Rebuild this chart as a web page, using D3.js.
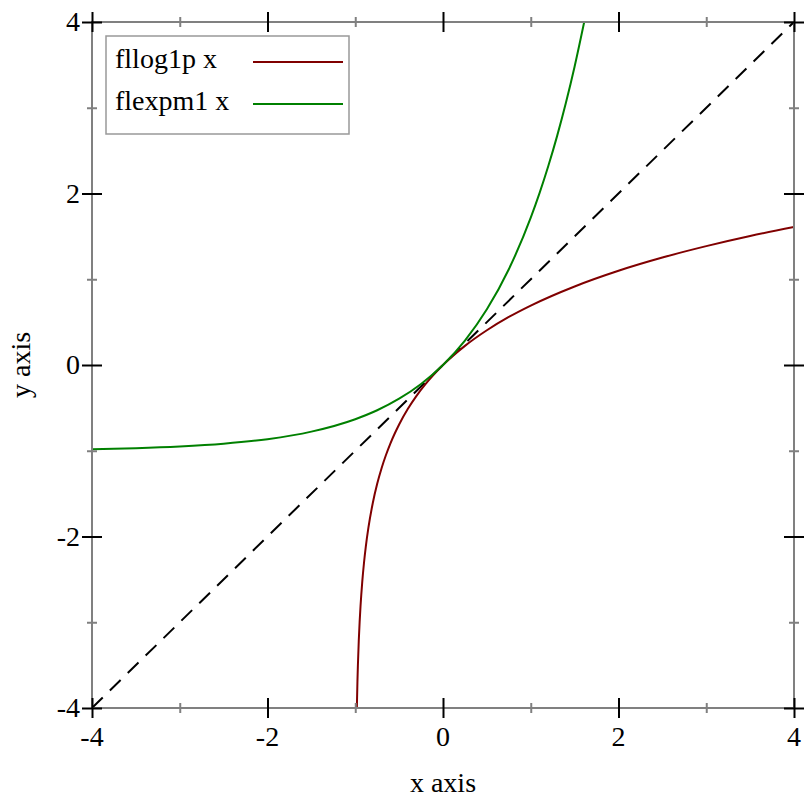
<!DOCTYPE html>
<html>
<head>
<meta charset="utf-8">
<script src="https://cdn.jsdelivr.net/npm/d3@7"></script>
<style>
  html, body { margin: 0; padding: 0; background: #fff; }
  svg { display: block; }
  text { font-family: "Liberation Serif", "Times New Roman", serif; fill: #000; }
</style>
</head>
<body>
<svg id="chart" width="812" height="812"></svg>
<script>
// ---- data ----
const seriesNames = ["fllog1p x", "flexpm1 x"];
const seriesColors = ["#800000", "#008000"];

const log1pX = [-0.9817, -0.975, -0.97, -0.96, -0.95, -0.94, -0.92, -0.9, -0.88, -0.85, -0.8, -0.75, -0.7, -0.65, -0.6, -0.55, -0.5, -0.4, -0.3, -0.2, -0.1, 0, 0.25, 0.5, 0.75, 1, 1.5, 2, 2.5, 3, 3.5, 4];
const log1pY = [-4.0, -3.689, -3.507, -3.219, -2.996, -2.813, -2.526, -2.303, -2.120, -1.897, -1.609, -1.386, -1.204, -1.050, -0.916, -0.799, -0.693, -0.511, -0.357, -0.223, -0.105, 0, 0.223, 0.405, 0.560, 0.693, 0.916, 1.099, 1.253, 1.386, 1.504, 1.609];

const expm1X = [-4, -3.5, -3, -2.5, -2, -1.5, -1, -0.75, -0.5, -0.25, 0, 0.25, 0.5, 0.75, 1, 1.1, 1.2, 1.3, 1.4, 1.5, 1.609];
const expm1Y = [-0.982, -0.970, -0.950, -0.918, -0.865, -0.777, -0.632, -0.528, -0.393, -0.221, 0, 0.284, 0.649, 1.117, 1.718, 2.004, 2.320, 2.669, 3.055, 3.482, 4.0];

const diagX = [-4, 4];
const diagY = [-4, 4];

const majorTicks = [-4, -2, 0, 2, 4];
const minorTicks = [-3, -1, 1, 3];
const xTitle = "x axis";
const yTitle = "y axis";

// ---- drawing ----
const svg = d3.select("#chart");
const L = 92, R = 794, T = 22, B = 708;
const x = d3.scaleLinear().domain([-4, 4]).range([L, R]);
const y = d3.scaleLinear().domain([-4, 4]).range([B, T]);

svg.append("defs").append("clipPath").attr("id", "clip")
  .append("rect").attr("x", L).attr("y", T).attr("width", R - L).attr("height", B - T);

const plot = svg.append("g").attr("clip-path", "url(#clip)");
const line = d3.line().x(d => x(d[0])).y(d => y(d[1])).curve(d3.curveMonotoneX);

// diagonal dashed line
plot.append("path")
  .datum(d3.zip(diagX, diagY))
  .attr("d", d3.line().x(d => x(d[0])).y(d => y(d[1])))
  .attr("fill", "none").attr("stroke", "#000").attr("stroke-width", 2)
  .attr("stroke-dasharray", "15,10");

plot.append("path")
  .datum(d3.zip(log1pX, log1pY))
  .attr("d", line)
  .attr("fill", "none").attr("stroke", seriesColors[0]).attr("stroke-width", 2);

plot.append("path")
  .datum(d3.zip(expm1X, expm1Y))
  .attr("d", line)
  .attr("fill", "none").attr("stroke", seriesColors[1]).attr("stroke-width", 2);

// frame
svg.append("rect").attr("x", L).attr("y", T).attr("width", R - L).attr("height", B - T)
  .attr("fill", "none").attr("stroke", "#808080").attr("stroke-width", 2);

// ticks using d3 axes on all four sides, stripped of domain, ticks drawn both sides
function tickAxis(axisFn, scale, vals, size, color, translate) {
  const g = svg.append("g").attr("transform", translate)
    .call(axisFn(scale).tickValues(vals).tickSizeInner(size).tickSizeOuter(0).tickFormat(""));
  g.select(".domain").remove();
  g.selectAll(".tick line").attr("stroke", color).attr("stroke-width", 2);
  g.selectAll(".tick text").remove();
  return g;
}
// bottom & top: lines from -size to +size
[[d3.axisBottom, `translate(0,${B - 10})`, 20, majorTicks, "#000"],
 [d3.axisBottom, `translate(0,${B - 5})`, 10, minorTicks, "#808080"],
 [d3.axisBottom, `translate(0,${T - 10})`, 20, majorTicks, "#000"],
 [d3.axisBottom, `translate(0,${T - 5})`, 10, minorTicks, "#808080"]]
  .forEach(a => tickAxis(a[0], x, a[3], a[2], a[4], a[1]));
[[d3.axisRight, `translate(${L - 10},0)`, 20, majorTicks, "#000"],
 [d3.axisRight, `translate(${L - 5},0)`, 10, minorTicks, "#808080"],
 [d3.axisRight, `translate(${R - 10},0)`, 20, majorTicks, "#000"],
 [d3.axisRight, `translate(${R - 5},0)`, 10, minorTicks, "#808080"]]
  .forEach(a => tickAxis(a[0], y, a[3], a[2], a[4], a[1]));

// tick labels
const fmt = d => String(d).replace("−", "-");
svg.append("g").selectAll("text").data(majorTicks).join("text")
  .attr("x", d => x(d)).attr("y", 746).attr("text-anchor", "middle")
  .attr("font-size", 28).text(fmt);
svg.append("g").selectAll("text").data(majorTicks).join("text")
  .attr("x", 80).attr("y", d => y(d) + 9).attr("text-anchor", "end")
  .attr("font-size", 28).text(fmt);

// axis titles
svg.append("text").attr("x", (L + R) / 2).attr("y", 792).attr("text-anchor", "middle")
  .attr("font-size", 28).text(xTitle);
svg.append("text").attr("transform", `translate(30,${(T + B) / 2}) rotate(-90)`)
  .attr("text-anchor", "middle").attr("font-size", 28).text(yTitle);

// legend
const lg = svg.append("g");
lg.append("rect").attr("x", 106).attr("y", 36).attr("width", 243).attr("height", 98)
  .attr("fill", "#fff").attr("stroke", "#999").attr("stroke-width", 1.5);
seriesNames.forEach((name, i) => {
  lg.append("text").attr("x", 115).attr("y", 68 + i * 42).attr("font-size", 28).text(name);
  lg.append("line").attr("x1", 253).attr("x2", 343)
    .attr("y1", 62 + i * 42).attr("y2", 62 + i * 42)
    .attr("stroke", seriesColors[i]).attr("stroke-width", 2);
});
</script>
</body>
</html>
